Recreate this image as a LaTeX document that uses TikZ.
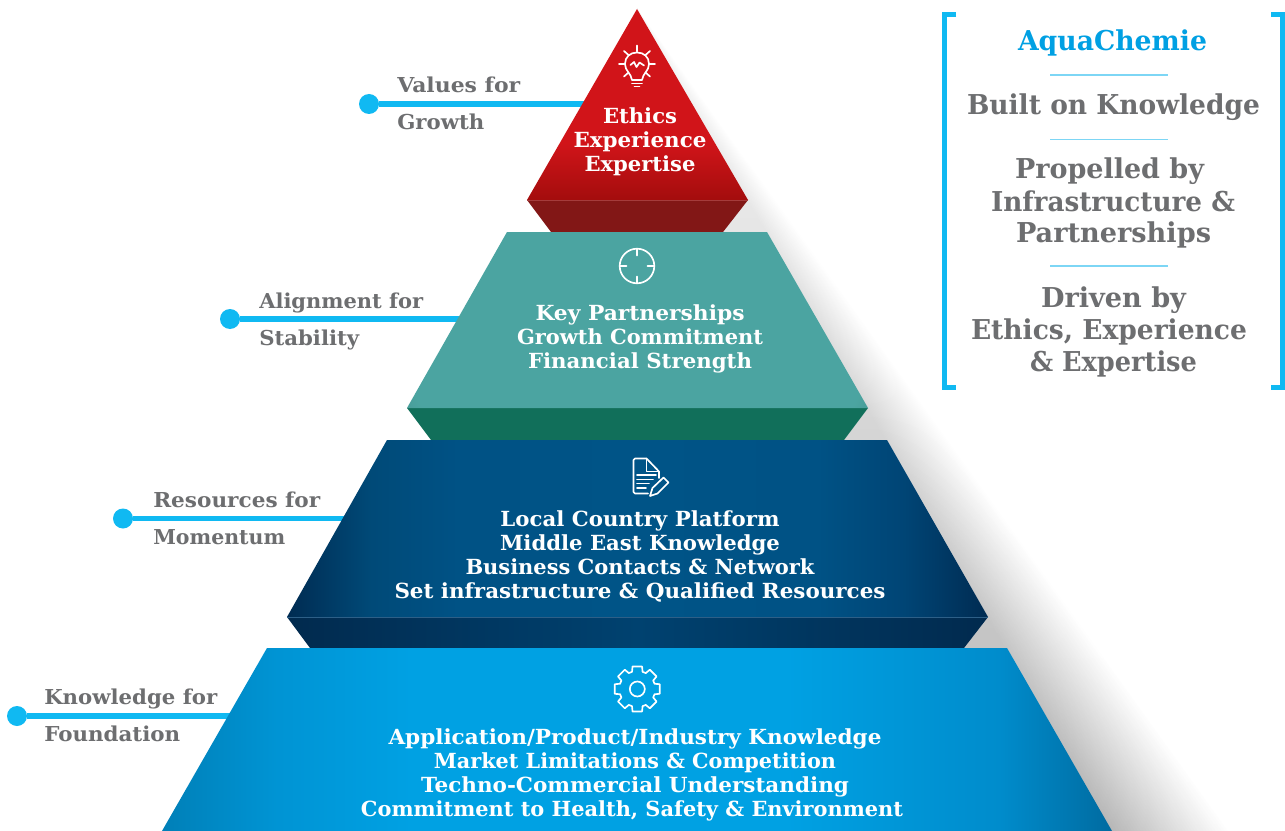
\documentclass[tikz,border=0pt]{standalone}
\usepackage{fontspec}
\usepackage{graphicx}
\newfontfamily\slab{DejaVu Serif}
\newlength{\pxu}\setlength{\pxu}{0.75pt}
\newcommand{\fitw}[2]{\resizebox{#1\pxu}{\height}{#2}}
\definecolor{conncol}{HTML}{10B9F2}
\definecolor{graytxt}{HTML}{6D6E70}
\definecolor{aquatxt}{HTML}{00A0E3}
\definecolor{divcol}{HTML}{7DD6F5}
\pgfdeclareverticalshading{redv}{100bp}{rgb(0bp)=(0.64,0.05,0.05); rgb(25bp)=(0.64,0.05,0.05); rgb(40bp)=(0.82,0.08,0.10); rgb(100bp)=(0.82,0.08,0.10)}
\pgfdeclareradialshading{tealrad}{\pgfpoint{0bp}{0bp}}{rgb(0bp)=(0.295,0.645,0.63); rgb(20bp)=(0.295,0.645,0.63); rgb(27bp)=(0.22,0.48,0.46); rgb(71bp)=(0.22,0.48,0.46)}
\pgfdeclarehorizontalshading{navyh}{100bp}{rgb(0bp)=(0.0,0.17,0.32); rgb(25bp)=(0.0,0.17,0.32); rgb(31bp)=(0.0,0.29,0.47); rgb(37bp)=(0.0,0.32,0.52); rgb(50bp)=(0.0,0.33,0.53); rgb(63bp)=(0.0,0.32,0.52); rgb(69bp)=(0.0,0.27,0.46); rgb(75bp)=(0.0,0.17,0.32); rgb(100bp)=(0.0,0.17,0.32)}
\pgfdeclarehorizontalshading{cyanh}{100bp}{rgb(0bp)=(0.0,0.50,0.72); rgb(25bp)=(0.0,0.50,0.72); rgb(31bp)=(0.0,0.58,0.83); rgb(38bp)=(0.0,0.63,0.89); rgb(58bp)=(0.0,0.63,0.89); rgb(69bp)=(0.0,0.55,0.80); rgb(75bp)=(0.0,0.42,0.63); rgb(100bp)=(0.0,0.42,0.63)}
\tikzset{
  wt/.style={anchor=base,text=white,inner sep=0pt,font=\slab\bfseries\fontsize{15.6}{18}\selectfont},
  gt/.style={anchor=base west,text=graytxt,inner sep=0pt,font=\slab\bfseries\fontsize{15.4}{18}\selectfont},
  pt/.style={anchor=base,text=graytxt,inner sep=0pt,font=\slab\bfseries\fontsize{20.5}{24}\selectfont},
  conn/.style={draw=conncol,line width=3.8pt},
  dot/.style={circle,fill=conncol,minimum size=15pt,inner sep=0pt},
  icon/.style={draw=white,line width=1.25pt,line join=round,line cap=round},
  divider/.style={draw=divcol,line width=1.1pt},
  brack/.style={draw=conncol,line width=4.2pt,line cap=butt,line join=miter},
}
\begin{document}
\begin{tikzpicture}[x=0.75pt,y=-0.75pt]
\useasboundingbox (0,0) rectangle (1285,831);
\fill[white] (0,0) rectangle (1285,831);
% soft shadow: nested wedges, outermost first, each shaded top to bottom
\foreach \k in {0,...,40}{
  \pgfmathsetmacro{\topk}{3*\k/40}
  \pgfmathsetmacro{\botk}{29*\k/40}
  \shade[top color=black!\topk!white,bottom color=black!\botk!white] (637,9) -- ({637+(0.722-0.00365*\k)*822},831) -- (637,831) -- cycle;
}
% connectors
\coordinate (e1) at (600,104);
\coordinate (e2) at (480,319);
\coordinate (e3) at (360,518.5);
\coordinate (e4) at (245,716);
\node[dot] (d1) at (369,104) {};
\node[dot] (d2) at (230,319) {};
\node[dot] (d3) at (123,518.5) {};
\node[dot] (d4) at (17,716) {};
\draw[conn] (d1) -- (e1);
\draw[conn] (d2) -- (e2);
\draw[conn] (d3) -- (e3);
\draw[conn] (d4) -- (e4);
% tier 1 red
\fill[fill={rgb,255:red,130;green,23;blue,22}] (527,200) -- (748,200) -- (723,232) -- (551,232) -- cycle;
\shade[shading=redv] (637,9) -- (748,200) -- (527,200) -- cycle;
\draw[draw={rgb,255:red,165;green,60;blue,60},line width=0.5pt] (527,200) -- (748,200);
% tier 2 teal
\fill[fill={rgb,255:red,17;green,111;blue,90}] (407,408) -- (868,408) -- (844,440) -- (431,440) -- cycle;
\begin{scope}
  \clip (507,232) -- (767,232) -- (868,408) -- (407,408) -- cycle;
  \shade[shading=tealrad] (337,0) rectangle (937,600);
\end{scope}
% tier 3 navy
\shade[left color={rgb,255:red,1;green,42;blue,78},right color={rgb,255:red,1;green,42;blue,78},middle color={rgb,255:red,0;green,66;blue,112}] (287,617) -- (988,617) -- (964,648) -- (310,648) -- cycle;
\shade[shading=navyh] (387,440) -- (887,440) -- (988,617) -- (287,617) -- cycle;
\draw[draw={rgb,255:red,45;green,95;blue,135},line width=0.5pt] (287,617) -- (988,617);
% tier 4 cyan
\shade[shading=cyanh] (267,648) -- (1007,648) -- (1112,831) -- (162,831) -- cycle;
% tier texts
\node[wt] (a1) at (640,124) {\fitw{74}{Ethics}};
\node[wt] (a2) at (640,148) {\fitw{133}{Experience}};
\node[wt] (a3) at (640,172) {\fitw{111}{Expertise}};
\node[wt] (b1) at (640,320) {\fitw{209}{Key Partnerships}};
\node[wt] (b2) at (640,344) {\fitw{246}{Growth Commitment}};
\node[wt] (b3) at (640,368) {\fitw{224}{Financial Strength}};
\node[wt] (c1) at (640,526) {\fitw{279}{Local Country Platform}};
\node[wt] (c2) at (640,550) {\fitw{280}{Middle East Knowledge}};
\node[wt] (c3) at (640,574) {\fitw{349}{Business Contacts \& Network}};
\node[wt] (c4) at (640,598) {\fitw{491}{Set infrastructure \& Qualified Resources}};
\node[wt] (f1) at (635,744) {\fitw{493}{Application/Product/Industry Knowledge}};
\node[wt] (f2) at (635,768) {\fitw{402}{Market Limitations \& Competition}};
\node[wt] (f3) at (635,792) {\fitw{428}{Techno-Commercial Understanding}};
\node[wt] (f4) at (632,816) {\fitw{542}{Commitment to Health, Safety \& Environment}};
% side labels
\node[gt] (l1a) at (397,93) {\fitw{123}{Values for}};
\node[gt] (l1b) at (397,130) {\fitw{87}{Growth}};
\node[gt] (l2a) at (259,308) {\fitw{164}{Alignment for}};
\node[gt] (l2b) at (259,345) {\fitw{100}{Stability}};
\node[gt] (l3a) at (153,507) {\fitw{167}{Resources for}};
\node[gt] (l3b) at (153,544) {\fitw{132}{Momentum}};
\node[gt] (l4a) at (44,704) {\fitw{173}{Knowledge for}};
\node[gt] (l4b) at (44,741) {\fitw{136}{Foundation}};
% panel
\draw[brack] (956,14.5) -- (944.5,14.5) -- (944.5,387.5) -- (956,387.5);
\draw[brack] (1271,14.5) -- (1283,14.5) -- (1283,387.5) -- (1271,387.5);
\node[pt,text=aquatxt] (p0) at (1112.5,51) {\fitw{189}{AquaChemie}};
\node[pt] (p1) at (1113.5,115) {\fitw{293}{Built on Knowledge}};
\node[pt] (p2) at (1109.5,179) {\fitw{189}{Propelled by}};
\node[pt] (p3) at (1113,211) {\fitw{244}{Infrastructure \&}};
\node[pt] (p4) at (1113.5,243) {\fitw{195}{Partnerships}};
\node[pt] (p5) at (1113.5,307) {\fitw{145}{Driven by}};
\node[pt] (p6) at (1109,339) {\fitw{276}{Ethics, Experience}};
\node[pt] (p7) at (1113.5,371) {\fitw{167}{\& Expertise}};
\draw[divider] (1050,75) -- (1168,75);
\draw[divider] (1050,139.3) -- (1168,139.3);
\draw[divider] (1050,266) -- (1168,266);
% bulb icon
\begin{scope}[icon]
  \draw (637,45.5) -- (637,51.5);
  \draw (619,64) -- (625,64);
  \draw (649,64) -- (655,64);
  \draw (624,51) -- (628.5,55);
  \draw (650,51) -- (645.5,55);
  \draw (624,76.5) -- (628.5,72.5);
  \draw (650,76.5) -- (645.5,72.5);
  \draw (632,80) .. controls (631,73) and (625,71) .. (625,64) .. controls (625,57) and (630,52.5) .. (637,52.5) .. controls (644,52.5) and (649,57) .. (649,64) .. controls (649,71) and (643,73) .. (642,80) -- cycle;
  \draw (630.5,65) -- (634,62) -- (636.5,67) -- (639.5,62.5) -- (644,65.5);
  \draw (632,83.5) -- (642,83.5);
  \draw (634.5,86.5) -- (639.5,86.5);
\end{scope}
% target icon
\begin{scope}[icon]
  \draw (637,266) circle[radius=17.3];
  \draw (637,248.7) -- (637,255.5);
  \draw (637,283.3) -- (637,276.5);
  \draw (619.7,266) -- (626.5,266);
  \draw (654.3,266) -- (647.5,266);
\end{scope}
% document icon
\begin{scope}[icon]
  \draw (648,493.5) -- (635,493.5) -- (633.5,492) -- (633.5,460) -- (635,458.5) -- (646.5,458.5) -- (659,471.5) -- (659,478);
  \draw (646.5,458.5) -- (646.5,471.5) -- (659,471.5);
  \draw (637,475) -- (656,475);
  \draw (637,479.5) -- (653,479.5);
  \draw (637,483.5) -- (649,483.5);
  \draw (637,488) -- (646,488);
  \draw (650,496) -- (652.5,488) -- (663.5,477.5) -- (668.5,482.5) -- (657.5,493.5) -- cycle;
\end{scope}
% gear icon
\begin{scope}[icon,shift={(637.3,689)}]
  \draw (-17:18) \foreach \a in {0,45,...,315}{ -- ({\a-17}:18) -- ({\a-12}:23) -- ({\a+12}:23) -- ({\a+17}:18) } -- cycle;
  \draw (0,0) circle[radius=7.5];
\end{scope}
\end{tikzpicture}
\end{document}
